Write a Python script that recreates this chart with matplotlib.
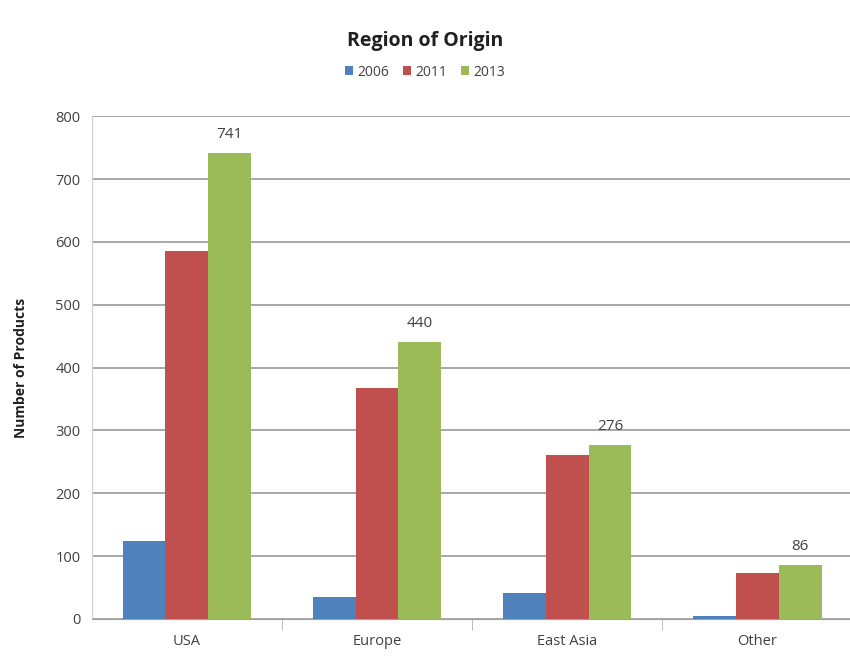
import matplotlib.pyplot as plt
import numpy as np

regions = ["USA", "Europe", "East Asia", "Other"]
years = ["2006", "2011", "2013"]
v2006 = [124, 35, 41, 5]
v2011 = [585, 367, 261, 73]
v2013 = [741, 440, 276, 86]
colors = ["#4F81BD", "#C0504D", "#9BBB59"]

plt.rcParams["font.family"] = ["Open Sans", "DejaVu Sans"]

fig = plt.figure(figsize=(8.5, 6.57), dpi=100)
ax = fig.add_axes([0.108, 0.058, 0.895, 0.765])

x = np.arange(len(regions))
w = 0.225
bars = []
for i, (vals, yr) in enumerate(zip([v2006, v2011, v2013], years)):
    b = ax.bar(x + (i - 1) * w, vals, w, color=colors[i], label=yr, zorder=3)
    bars.append(b)

# labels only on the 2013 bars
for rect, v in zip(bars[2], v2013):
    ax.text(rect.get_x() + rect.get_width() / 2, v + 18, str(v),
            ha="center", va="bottom", fontsize=11, color="#404040")

ax.set_xlim(-0.5, 3.5)
ax.set_ylim(0, 800)
ax.set_yticks(range(0, 801, 100))
ax.set_xticks(x)
ax.set_xticklabels(regions)
ax.set_xticks([0.5, 1.5, 2.5], minor=True)
ax.tick_params(axis="x", which="major", length=0, pad=11, labelsize=10.5, colors="#404040")
ax.tick_params(axis="x", which="minor", length=8, color="#b0b0b0")
ax.tick_params(axis="y", length=0, pad=8, labelsize=10.5, colors="#404040")

ax.grid(axis="y", color="#909090", linewidth=1.1, zorder=0)
for s in ["top", "right"]:
    ax.spines[s].set_visible(False)
ax.spines["left"].set_color("#d0d0d0")
ax.spines["bottom"].set_color("#a0a0a0")

ax.set_ylabel("Number of Products", fontsize=10, fontweight="bold", color="#202020", labelpad=20)

fig.text(0.5, 0.937, "Region of Origin", ha="center", va="center",
         fontsize=14, fontweight="bold", color="#202020")
fig.legend(loc="center", bbox_to_anchor=(0.5, 0.89), ncol=3, frameon=False,
           fontsize=10, handlelength=0.6, handleheight=0.6, handletextpad=0.3,
           columnspacing=1.0, labelcolor="#404040")

fig.savefig("out.png", dpi=100)
